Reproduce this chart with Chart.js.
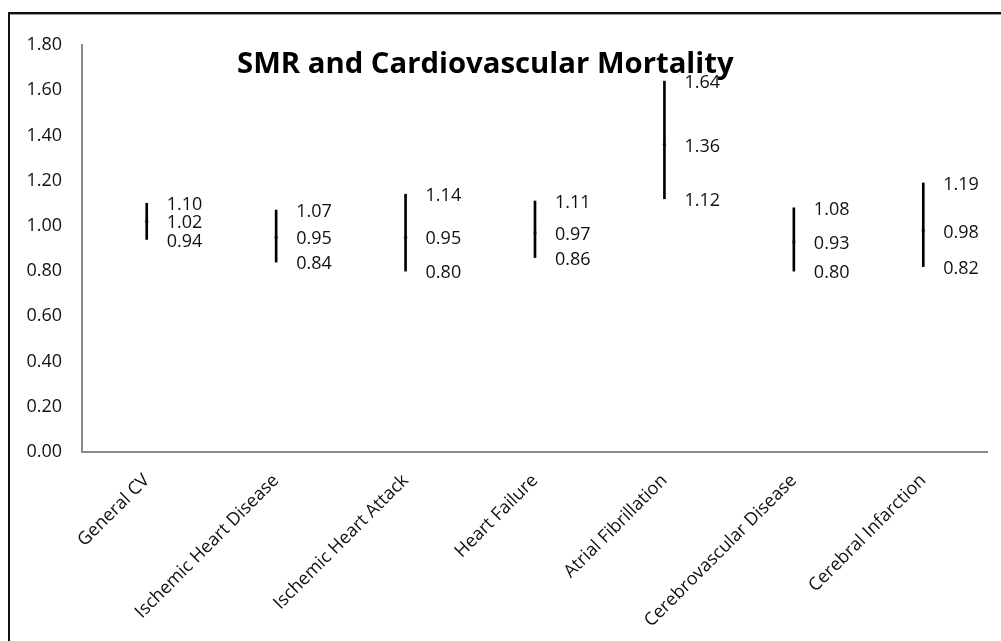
<!DOCTYPE html>
<html>
<head>
<meta charset="utf-8">
<script src="https://cdn.jsdelivr.net/npm/chart.js@4/dist/chart.umd.min.js"></script>
<style>
  html, body { margin: 0; padding: 0; background: #fff; }
  #frame { position: relative; width: 1001px; height: 641px; overflow: hidden; }
  #frame canvas { position: absolute; left: 0; top: 0; }
  .edge-top { position: absolute; left: 8px; top: 12px; width: 993px; height: 2px; background: #111; border-bottom: 1px solid #999; }
  .edge-left { position: absolute; left: 8px; top: 12px; width: 2px; height: 629px; background: #111; }
</style>
</head>
<body>
<div id="frame">
  <canvas id="smrChart" width="1001" height="641"></canvas>
  <div class="edge-top"></div>
  <div class="edge-left"></div>
</div>
<script>
// Datos
const categories = [
  "General CV",
  "Ischemic Heart Disease",
  "Ischemic Heart Attack",
  "Heart Failure",
  "Atrial Fibrillation",
  "Cerebrovascular Disease",
  "Cerebral Infarction",
];
const smr = [1.02, 0.95, 0.95, 0.97, 1.36, 0.93, 0.98];
const lower = [0.94, 0.84, 0.80, 0.86, 1.12, 0.80, 0.82];
const upper = [1.10, 1.07, 1.14, 1.11, 1.64, 1.08, 1.19];
const yMin = 0;
const yMax = 1.8;
const yStep = 0.2;
const chartTitle = "SMR and Cardiovascular Mortality";

const FONT = "'Open Sans', 'DejaVu Sans', sans-serif";
const AXIS_COLOR = "#8a8a8a";

// Linea del eje X, etiquetas de valores y titulo
const valueLabels = {
  id: "valueLabels",
  afterDatasetsDraw(chart) {
    const { ctx, scales, chartArea } = chart;
    const x = scales.x;
    const y = scales.y;
    ctx.save();

    // eje X hasta el borde del area
    ctx.strokeStyle = AXIS_COLOR;
    ctx.lineWidth = 2;
    ctx.beginPath();
    ctx.moveTo(chartArea.left - 1, y.getPixelForValue(yMin));
    ctx.lineTo(chartArea.right, y.getPixelForValue(yMin));
    ctx.stroke();

    ctx.fillStyle = "#111";
    ctx.font = "18px " + FONT;
    ctx.textAlign = "left";
    ctx.textBaseline = "middle";
    categories.forEach((c, i) => {
      const px = x.getPixelForValue(i) + 20;
      [upper[i], smr[i], lower[i]].forEach((v) => {
        ctx.fillText(v.toFixed(2), px, y.getPixelForValue(v) + 2);
      });
    });

    ctx.fillStyle = "#000";
    ctx.font = "bold 29.3px " + FONT;
    ctx.textBaseline = "alphabetic";
    ctx.fillText(chartTitle, 237, 73);
    ctx.restore();
  },
};

new Chart(document.getElementById("smrChart").getContext("2d"), {
  data: {
    labels: categories,
    datasets: [
      {
        type: "bar",
        label: "IC 95%",
        data: categories.map((c, i) => [lower[i], upper[i]]),
        backgroundColor: "#000",
        borderWidth: 0,
        barThickness: 2,
      },
      {
        type: "line",
        label: "SMR",
        data: smr,
        showLine: false,
        pointRadius: 2,
        pointBackgroundColor: "#a0a0a0",
        pointBorderColor: "#a0a0a0",
        pointBorderWidth: 0,
      },
    ],
  },
  options: {
    responsive: false,
    animation: false,
    layout: { padding: { left: 25, top: 45, right: 13, bottom: 0 } },
    plugins: {
      legend: { display: false },
      tooltip: { enabled: false },
      title: { display: false },
    },
    scales: {
      x: {
        type: "category",
        offset: true,
        grid: { display: false, drawTicks: false },
        border: { display: false },
        ticks: {
          color: "#111",
          font: { family: FONT, size: 18 },
          maxRotation: 45,
          minRotation: 45,
          autoSkip: false,
          padding: 18,
        },
        afterFit: (s) => { s.height = 189; },
      },
      y: {
        min: yMin,
        max: yMax,
        grid: { display: false, drawTicks: false },
        border: { display: true, color: AXIS_COLOR, width: 2 },
        ticks: {
          stepSize: yStep,
          color: "#111",
          font: { family: FONT, size: 18 },
          padding: 20,
          callback: (v) => Number(v).toFixed(2),
        },
        afterFit: (s) => { s.width = 57; },
      },
    },
  },
  plugins: [valueLabels],
});
</script>
</body>
</html>
